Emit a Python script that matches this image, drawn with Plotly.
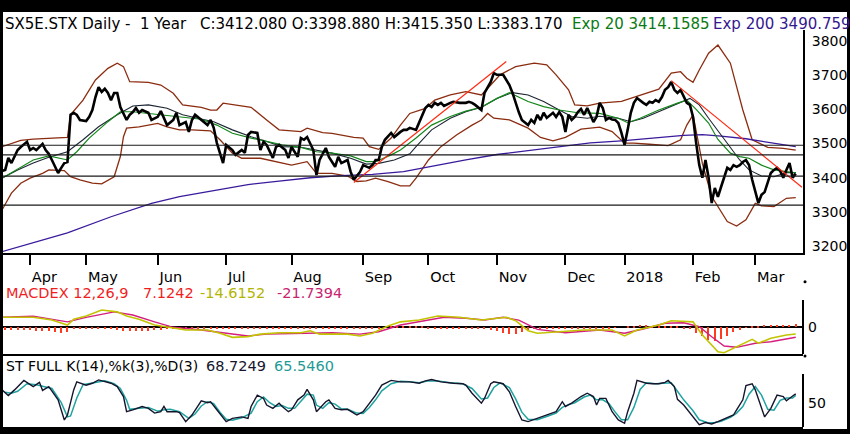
import pandas as pd
import plotly.graph_objects as go

W, H = 850, 434
FONT = "DejaVu Sans"

# trading calendar (eurex holidays dropped)
holidays = ["2017-04-14", "2017-04-17", "2017-12-25", "2017-12-26", "2018-01-01"]
days = pd.bdate_range("2017-03-20", "2018-03-23")
days = days[~days.isin(pd.to_datetime(holidays))]

month_ticks = ["2017-04-03", "2017-05-01", "2017-06-01", "2017-07-03", "2017-08-01", "2017-09-01",
               "2017-10-02", "2017-11-01", "2017-12-01", "2018-01-02", "2018-02-01", "2018-03-01"]
month_labels = ["Apr", "May", "Jun", "Jul", "Aug", "Sep", "Oct", "Nov", "Dec", "2018", "Feb", "Mar"]

# ---- price panel (session number, value) ----
price_day = [0, 1, 2, 3, 4, 5, 6, 7, 9, 10, 11, 12, 14, 15, 16, 17, 19, 20, 21, 22, 23, 24, 25, 26, 28, 29,
             30, 31, 32, 33, 34, 35, 36, 37, 38, 39, 41, 42, 43, 44, 45, 46, 48, 49, 51, 52, 53, 54, 56, 57,
             58, 60, 61, 62, 63, 65, 66, 67, 68, 69, 70, 72, 73, 75, 76, 78, 79, 80, 81, 83, 84, 85, 86, 88,
             89, 90, 92, 93, 94, 96, 97, 98, 99, 101, 102, 103, 105, 106, 108, 109, 110, 112, 113, 114, 116,
             117, 119, 120, 121, 122, 123, 124, 126, 127, 129, 130, 131, 132, 134, 135, 137, 138, 139, 140,
             141, 142, 143, 145, 146, 148, 150, 151, 152, 153, 155, 156, 157, 158, 159, 160, 162, 163, 164,
             165, 166, 167, 168, 170, 171, 172, 173, 174, 175, 176, 178, 179, 180, 181, 182, 183, 184, 185,
             186, 187, 188, 189, 190, 191, 192, 193, 194, 195, 196, 197, 198, 199, 200, 201, 202, 203, 204,
             205, 207, 208, 209, 210, 211, 212, 213, 214, 215, 216, 217, 218, 219, 220, 221, 222, 223, 224,
             225, 226, 227, 228, 229, 230, 231, 232, 233, 234, 235, 236, 237, 238, 239, 240, 241, 242, 244,
             245, 246, 247, 248, 249, 250, 251, 252, 253, 254, 255, 256]
price_close = [3430, 3420, 3423, 3458, 3443, 3464, 3481, 3490, 3505, 3481, 3487, 3481, 3499, 3481, 3470, 3452,
               3414, 3429, 3443, 3446, 3584, 3590, 3584, 3569, 3566, 3578, 3598, 3636, 3665, 3651, 3660, 3648,
               3627, 3648, 3648, 3607, 3569, 3584, 3592, 3604, 3590, 3598, 3590, 3569, 3578, 3595, 3575, 3554,
               3569, 3590, 3554, 3563, 3534, 3569, 3584, 3569, 3563, 3554, 3569, 3546, 3502, 3443, 3496, 3481,
               3467, 3481, 3473, 3525, 3534, 3531, 3481, 3505, 3496, 3458, 3490, 3496, 3481, 3458, 3490, 3461,
               3516, 3511, 3519, 3481, 3408, 3452, 3487, 3461, 3432, 3461, 3443, 3452, 3417, 3394, 3417, 3437,
               3429, 3437, 3452, 3452, 3490, 3511, 3531, 3519, 3534, 3540, 3540, 3546, 3540, 3563, 3604, 3613,
               3607, 3619, 3613, 3619, 3610, 3619, 3622, 3619, 3619, 3622, 3619, 3613, 3598, 3648, 3663, 3680,
               3706, 3701, 3701, 3686, 3671, 3648, 3619, 3592, 3569, 3554, 3569, 3560, 3584, 3569, 3590, 3575,
               3590, 3578, 3592, 3578, 3534, 3584, 3569, 3578, 3592, 3601, 3584, 3604, 3584, 3563, 3578, 3619,
               3604, 3569, 3575, 3570, 3569, 3560, 3531, 3496, 3540, 3590, 3619, 3633, 3619, 3613, 3622, 3619,
               3627, 3622, 3636, 3657, 3665, 3680, 3657, 3648, 3657, 3636, 3619, 3613, 3578, 3502, 3437, 3400,
               3452, 3400, 3326, 3370, 3344, 3373, 3400, 3429, 3423, 3437, 3432, 3437, 3446, 3452, 3437, 3394,
               3326, 3350, 3358, 3385, 3414, 3423, 3429, 3420, 3400, 3423, 3443, 3400, 3412]

ema20_day = [1, 11, 16, 20, 22, 25, 29, 35, 39, 43, 48, 56, 65, 70, 75, 81, 86, 91, 97, 102, 107, 113, 118,
             121, 126, 129, 134, 139, 145, 150, 155, 160, 164, 170, 175, 180, 186, 193, 199, 202, 206, 212,
             218, 221, 224, 228, 231, 235, 238, 241, 245, 249, 253, 256]
ema20_val = [3399, 3452, 3464, 3457, 3452, 3476, 3516, 3564, 3593, 3593, 3588, 3581, 3571, 3554, 3530, 3516,
             3506, 3496, 3489, 3476, 3472, 3464, 3447, 3447, 3467, 3481, 3516, 3554, 3579, 3595, 3606, 3632,
             3649, 3623, 3608, 3598, 3590, 3588, 3574, 3561, 3574, 3598, 3618, 3627, 3600, 3560, 3512, 3472,
             3462, 3457, 3437, 3423, 3418, 3414.16]

sma20_day = [1, 6, 11, 16, 22, 27, 32, 38, 43, 48, 54, 59, 65, 69, 75, 81, 86, 91, 97, 102, 107, 113, 118,
             122, 127, 132, 134, 139, 145, 150, 155, 160, 165, 170, 175, 180, 184, 189, 193, 199, 203, 207,
             212, 218, 222, 225, 228, 234, 238, 241, 245, 249, 253, 256]
sma20_val = [3399, 3423, 3443, 3460, 3476, 3511, 3549, 3584, 3610, 3613, 3603, 3584, 3572, 3564, 3540, 3520,
             3506, 3491, 3489, 3481, 3472, 3457, 3440, 3442, 3452, 3470, 3491, 3540, 3574, 3593, 3606, 3632,
             3649, 3642, 3623, 3598, 3579, 3574, 3580, 3574, 3564, 3574, 3593, 3616, 3632, 3613, 3574, 3501,
             3452, 3423, 3405, 3403, 3415, 3415]

bb_up_day = [1, 7, 11, 16, 22, 23, 27, 31, 35, 38, 40, 42, 48, 52, 56, 59, 65, 68, 70, 72, 75, 81, 86, 90,
             97, 99, 104, 107, 114, 117, 119, 122, 126, 129, 132, 137, 140, 145, 150, 155, 158, 161, 166,
             172, 176, 179, 183, 185, 189, 193, 200, 204, 208, 212, 216, 219, 221, 223, 225, 228, 231, 235,
             239, 242, 247, 252, 256]
bb_up_val = [3491, 3509, 3513, 3516, 3518, 3584, 3627, 3686, 3720, 3735, 3725, 3681, 3679, 3671, 3647, 3613,
             3606, 3598, 3598, 3618, 3614, 3606, 3569, 3540, 3535, 3545, 3532, 3530, 3518, 3516, 3491, 3483,
             3516, 3554, 3588, 3603, 3627, 3642, 3652, 3642, 3671, 3701, 3725, 3735, 3730, 3701, 3657, 3613,
             3610, 3618, 3623, 3635, 3649, 3659, 3706, 3710, 3691, 3679, 3715, 3764, 3788, 3735, 3598, 3511,
             3489, 3486, 3481]

bb_lo_day = [1, 4, 7, 10, 14, 16, 21, 23, 26, 30, 33, 37, 39, 40, 41, 45, 51, 54, 58, 62, 68, 71, 75, 78, 84,
             89, 94, 99, 102, 107, 112, 115, 118, 121, 125, 129, 132, 134, 138, 142, 147, 152, 155, 157, 159,
             164, 170, 174, 178, 182, 187, 193, 197, 201, 204, 209, 215, 219, 221, 223, 224, 226, 229, 234,
             237, 240, 243, 245, 249, 253, 256]
bb_lo_val = [3306, 3355, 3384, 3399, 3413, 3423, 3421, 3403, 3394, 3384, 3382, 3403, 3462, 3520, 3545, 3549,
             3559, 3549, 3540, 3540, 3537, 3511, 3472, 3457, 3457, 3447, 3437, 3447, 3413, 3413, 3405, 3389,
             3391, 3399, 3389, 3376, 3376, 3399, 3452, 3491, 3525, 3554, 3569, 3588, 3574, 3569, 3545, 3518,
             3508, 3518, 3542, 3548, 3535, 3501, 3501, 3498, 3494, 3511, 3554, 3584, 3540, 3442, 3345, 3272,
             3259, 3277, 3325, 3318, 3316, 3340, 3342]

ema200_day = [1, 22, 36, 49, 58, 69, 80, 90, 100, 110, 120, 130, 140, 150, 160, 170, 180, 190, 200, 210, 220,
              226, 232, 240, 248, 256]
ema200_val = [3184, 3239, 3286, 3325, 3345, 3362, 3380, 3390, 3400, 3406, 3410, 3418, 3436, 3452, 3468, 3480,
              3492, 3502, 3508, 3516, 3524, 3526, 3522, 3514, 3503, 3490.76]

levels = [3495, 3467, 3405, 3320]
trend_up_day = [114, 163]
trend_up_val = [3386, 3740]
trend_dn_day = [216, 258]
trend_dn_val = [3684, 3372]

# ---- MACD panel ----
macd_day = [1, 11, 17, 22, 24, 28, 33, 38, 41, 45, 50, 54, 60, 67, 71, 75, 80, 84, 90, 97, 100, 103, 107, 112,
            116, 120, 125, 129, 135, 141, 148, 155, 163, 166, 170, 173, 180, 188, 197, 201, 205, 212, 216, 223,
            226, 231, 233, 237, 242, 244, 248, 253, 256]
macd_val = [22, 22, 16, 5, 17.6, 25, 38, 34, 25, 17.6, 5, 0, -6, -6, -13, -22, -20.5, -15, -12, -12, -7.5, -15,
            -15, -15, -19, -13, 3, 12, 16, 25, 22, 16, 22, 14.5, -7.5, -13, -9.7, -6, -6, -19, -6, 5, 14.5, 12,
            -17, -54, -56, -42.7, -26.4, -35, -24, -17, -14.6152]
signal_day = [1, 11, 22, 28, 37, 43, 50, 56, 65, 73, 80, 86, 97, 107, 116, 122, 129, 135, 143, 150, 156, 162,
              167, 173, 182, 193, 201, 208, 214, 220, 225, 229, 233, 237, 243, 248, 253, 256]
signal_val = [22, 24.5, 12, 22, 34, 27, 12, 0, -6, -13, -19, -15, -13, -12, -15, -9.7, 5, 12, 22, 20, 16, 22,
              16, -4.4, -12, -6, -13, -2, 9, 10, 1.3, -20.7, -41, -44, -35, -31.7, -26.4, -21.7394]
# histogram, one bar every second session
hist_val = [-5, -5, -6, -6, -5, -6, -7, -8, -9, -10, -12, -10,
            -4, -3, -3, -3, -4, -4, -4, -5,
            -7, -9, -9, -8, -7, -6, -5, -4,
            -3, -3, -3, -3, -3, -3, -3, -3, -4,
            -4, -4, -3, -3, -2, -2, -2, -2, -2, -2, -3, -3, -3, -3, -3, -3, -3, -3,
            -3, -3, -4, -4, -4, -3, -2, -1,
            2, 3, 3, 3, 2, 2,
            -2, -3, -3, -3, -3, -3, -3, -3, -3, -4, -5,
            -8, -12, -15, -14, -10, -6,
            -4, -3, -3, -3, -2, -2, -2, -2, -2, -2, -3,
            -3, -2, -1, 0,
            3, 4, 5, 5, 4, 4, 3,
            2, 1, -2, -4,
            -12, -20, -27, -30, -26, -18,
            -10, -5, -1,
            3, 4, 5, 5, 6, 6, 6, 7.1242]

# ---- full stochastics ----
stk_day = [1, 3, 5, 8, 11, 13, 14, 16, 19, 21, 22, 24, 25, 28, 30, 32, 36, 38, 40, 41, 43, 46, 48, 50, 52, 53,
           54, 57, 58, 60, 62, 64, 65, 67, 68, 70, 72, 73, 75, 78, 80, 81, 83, 85, 86, 88, 90, 91, 93, 94, 96,
           98, 99, 101, 102, 103, 105, 106, 108, 110, 112, 114, 115, 117, 119, 121, 123, 126, 129, 132, 135,
           137, 139, 142, 146, 149, 150, 152, 155, 156, 158, 159, 162, 164, 166, 168, 170, 173, 176, 179, 181,
           182, 184, 187, 189, 191, 192, 193, 195, 197, 199, 201, 202, 204, 205, 208, 210, 212, 214, 215, 217,
           218, 220, 223, 225, 227, 229, 231, 233, 236, 237, 239, 240, 242, 243, 245, 246, 248, 250, 252, 253,
           255, 256]
stk_val = [77, 65, 77, 97, 84, 93, 76, 84, 56, 13.5, 24, 77, 94, 87, 91, 98, 91, 84, 63, 31, 35, 42, 38, 28, 31,
           42, 31, 31, 29, 10, 24, 45, 54, 50, 52, 35, 17, 10, 17, 20, 17, 42, 66, 59, 45, 38, 49, 42, 31, 35, 56,
           66, 78, 56, 31, 38, 52, 56, 38, 35, 36, 28, 24, 31, 49, 66, 87, 97, 94, 94, 91, 96, 99, 94, 91, 90, 87,
           70, 49, 59, 90, 94, 90, 73, 42, 13.5, 10, 17, 24, 31, 52, 42, 49, 63, 70, 63, 45, 59, 59, 31, 13.5, 6.5,
           31, 70, 97, 91, 90, 90, 93, 97, 84, 57, 45, 20, 3.5, 8, 5, 10, 15, 24, 35, 56, 86, 90, 77, 42, 20, 38,
           66, 63, 54, 64, 68.7249]
std_day = [2, 4, 6, 9, 12, 15, 17, 20, 22, 23, 25, 27, 29, 31, 34, 37, 39, 41, 42, 45, 48, 51, 53, 55, 58, 61,
           63, 65, 67, 69, 71, 73, 75, 78, 81, 83, 85, 87, 89, 91, 93, 95, 97, 99, 101, 102, 104, 106, 108, 110,
           112, 115, 117, 119, 121, 123, 126, 129, 132, 135, 138, 141, 145, 149, 152, 155, 157, 159, 161, 164,
           166, 168, 170, 173, 176, 179, 181, 183, 185, 188, 190, 192, 194, 196, 198, 200, 202, 204, 206, 208,
           211, 214, 216, 218, 220, 223, 225, 228, 230, 232, 235, 237, 239, 241, 243, 245, 247, 249, 251, 253,
           255, 256]
std_val = [72, 70, 74, 90, 88, 84, 80, 50, 20, 22, 60, 88, 90, 92, 96, 90, 80, 55, 36, 38, 40, 32, 35, 36, 31,
           17, 26, 43, 52, 48, 30, 15, 13, 18, 28, 52, 62, 50, 42, 44, 38, 38, 52, 68, 66, 45, 38, 50, 47, 37,
           36, 28, 27, 40, 56, 75, 90, 95, 94, 92, 96, 96, 92, 90, 80, 58, 60, 82, 92, 82, 58, 30, 15, 14, 21,
           28, 40, 46, 50, 62, 66, 56, 56, 48, 30, 14, 14, 40, 78, 92, 90, 92, 92, 74, 56, 33, 14, 7, 8, 11, 19,
           28, 42, 68, 84, 66, 36, 34, 55, 60, 60, 65.546]


def on_days(idx):
    return [days[i] for i in idx]


def px_x(px):
    # screen pixel -> paper x (plot area runs from 3 to 803)
    return (px - 3) / 800


def px_y(py):
    return 1 - py / H


def line(idx, vals, color, width, xa, ya):
    return go.Scatter(x=on_days(idx), y=vals, mode="lines", line=dict(color=color, width=width),
                      xaxis=xa, yaxis=ya, hoverinfo="skip", showlegend=False)


fig = go.Figure()

fig.add_trace(line(bb_up_day, bb_up_val, "#8b2c10", 1.3, "x", "y"))
fig.add_trace(line(bb_lo_day, bb_lo_val, "#8b2c10", 1.3, "x", "y"))
fig.add_trace(line(ema200_day, ema200_val, "#3a1a9c", 1.3, "x", "y"))
fig.add_trace(line(sma20_day, sma20_val, "#1c2633", 1.1, "x", "y"))
fig.add_trace(line(ema20_day, ema20_val, "#13861a", 1.2, "x", "y"))
fig.add_trace(line(price_day, price_close, "#000000", 2.6, "x", "y"))
fig.add_trace(line(trend_up_day, trend_up_val, "#ff2a12", 1.2, "x", "y"))
fig.add_trace(line(trend_dn_day, trend_dn_val, "#ff2a12", 1.2, "x", "y"))

hist_day = list(range(0, 257, 2))
fig.add_trace(go.Bar(x=on_days(hist_day), y=hist_val, width=0.4 * 86400000,
                     marker=dict(color="#ff3b1f", line=dict(width=0)),
                     xaxis="x2", yaxis="y2", hoverinfo="skip", showlegend=False))
fig.add_trace(line(signal_day, signal_val, "#d41f7e", 1.4, "x2", "y2"))
fig.add_trace(line(macd_day, macd_val, "#c2c400", 1.6, "x2", "y2"))

fig.add_trace(line(std_day, std_val, "#1fa3a0", 1.5, "x3", "y3"))
fig.add_trace(line(stk_day, stk_val, "#15152e", 1.4, "x3", "y3"))

for lv in levels:
    fig.add_shape(type="line", xref="x domain", yref="y", x0=0, x1=1, y0=lv, y1=lv,
                  line=dict(color="#1a1a1a", width=1.2))

x_range = ["2017-03-21 07:00", "2018-03-22 08:00"]
rbreaks = [dict(bounds=["sat", "mon"]), dict(values=holidays)]
xbase = dict(type="date", range=x_range, rangebreaks=rbreaks, showgrid=False, zeroline=False,
             showline=True, linecolor="black", linewidth=2, fixedrange=True)

fig.update_layout(
    width=W, height=H,
    margin=dict(l=3, r=47, t=0, b=0, autoexpand=False),
    paper_bgcolor="white", plot_bgcolor="white",
    font=dict(family=FONT, size=14, color="black"),
    bargap=0,
    xaxis=dict(xbase, anchor="y", ticks="outside", ticklen=10, tickwidth=1.5, tickcolor="black",
               tickvals=month_ticks, ticktext=month_labels, ticklabelposition="outside right",
               ticklabelstandoff=10, tickfont=dict(size=14.5)),
    xaxis2=dict(xbase, anchor="y2", showticklabels=False, ticks=""),
    xaxis3=dict(xbase, anchor="y3", showticklabels=False, ticks=""),
    yaxis=dict(domain=[px_y(253), px_y(30)], range=[3180, 3832], side="right", anchor="x",
               showline=True, linecolor="black", linewidth=2, ticks="", showgrid=False, zeroline=False,
               tickvals=[3200, 3300, 3400, 3500, 3600, 3700, 3800], ticklabelstandoff=4, tickfont=dict(size=14)),
    yaxis2=dict(domain=[px_y(354), px_y(283)], range=[-58.7, 97.5], side="right", anchor="x2",
                showline=False, ticks="", showgrid=False, zeroline=True, zerolinecolor="black", zerolinewidth=2,
                tickvals=[0], ticklabelstandoff=4, tickfont=dict(size=14)),
    yaxis3=dict(domain=[px_y(427), px_y(356)], range=[-1.3, 148.5], side="right", anchor="x3",
                showline=False, ticks="", showgrid=False, zeroline=False,
                tickvals=[50], ticklabelstandoff=4, tickfont=dict(size=14)),
)

# short right-hand axis lines of the two lower panels, with their end dots
for top, bottom in [(300, 354), (374, 427)]:
    fig.add_shape(type="line", xref="paper", yref="paper", x0=1, x1=1, y0=px_y(bottom), y1=px_y(top),
                  line=dict(color="black", width=2))
for dot_y in [281.7, 356]:
    fig.add_shape(type="circle", xref="paper", yref="paper", x0=px_x(803.5), x1=px_x(806.5),
                  y0=px_y(dot_y + 1.5), y1=px_y(dot_y - 1.5), fillcolor="black", line=dict(width=0))

# black picture frame
frame = [(0, 0, 850, 12), (0, 0, 3, 434), (847, 0, 850, 434), (0, 429, 850, 434)]
for x0, y0, x1, y1 in frame:
    fig.add_shape(type="rect", xref="paper", yref="paper", x0=px_x(x0), x1=px_x(x1), y0=px_y(y1), y1=px_y(y0),
                  fillcolor="black", line=dict(width=0), layer="above")


def label(text, px, py, color, size=15):
    fig.add_annotation(text=text, xref="paper", yref="paper", x=px_x(px), y=px_y(py), xanchor="left",
                       yanchor="middle", showarrow=False, borderpad=0,
                       font=dict(family=FONT, size=size, color=color))


label("SX5E.STX Daily -  1 Year", 4, 24.5, "black")
label("C:3412.080 O:3398.880 H:3415.350 L:3383.170", 199, 24.5, "black")
label("Exp 20 3414.1585", 571, 24.5, "#0b7a14")
label("Exp 200 3490.759", 712, 24.5, "#34188f")

label("MACDEX 12,26,9", 5, 292.5, "#f01e1e", 14.5)
label("7.1242", 142, 292.5, "#f01e1e", 14.5)
label("-14.6152", 199, 292.5, "#b3b400", 14.5)
label("-21.7394", 276, 292.5, "#c8246f", 14.5)

label("ST FULL K(14),%k(3),%D(3)", 5, 366, "black", 14)
label("68.7249", 205, 366, "#15152e", 14.5)
label("65.5460", 273, 366, "#1f9a96", 14.5)

# page has a default 8px body margin; drop it so the chart sits at the window corner
fig.write_html("out.html", config={"displayModeBar": False},
               post_script="document.body.style.margin='0px';")
